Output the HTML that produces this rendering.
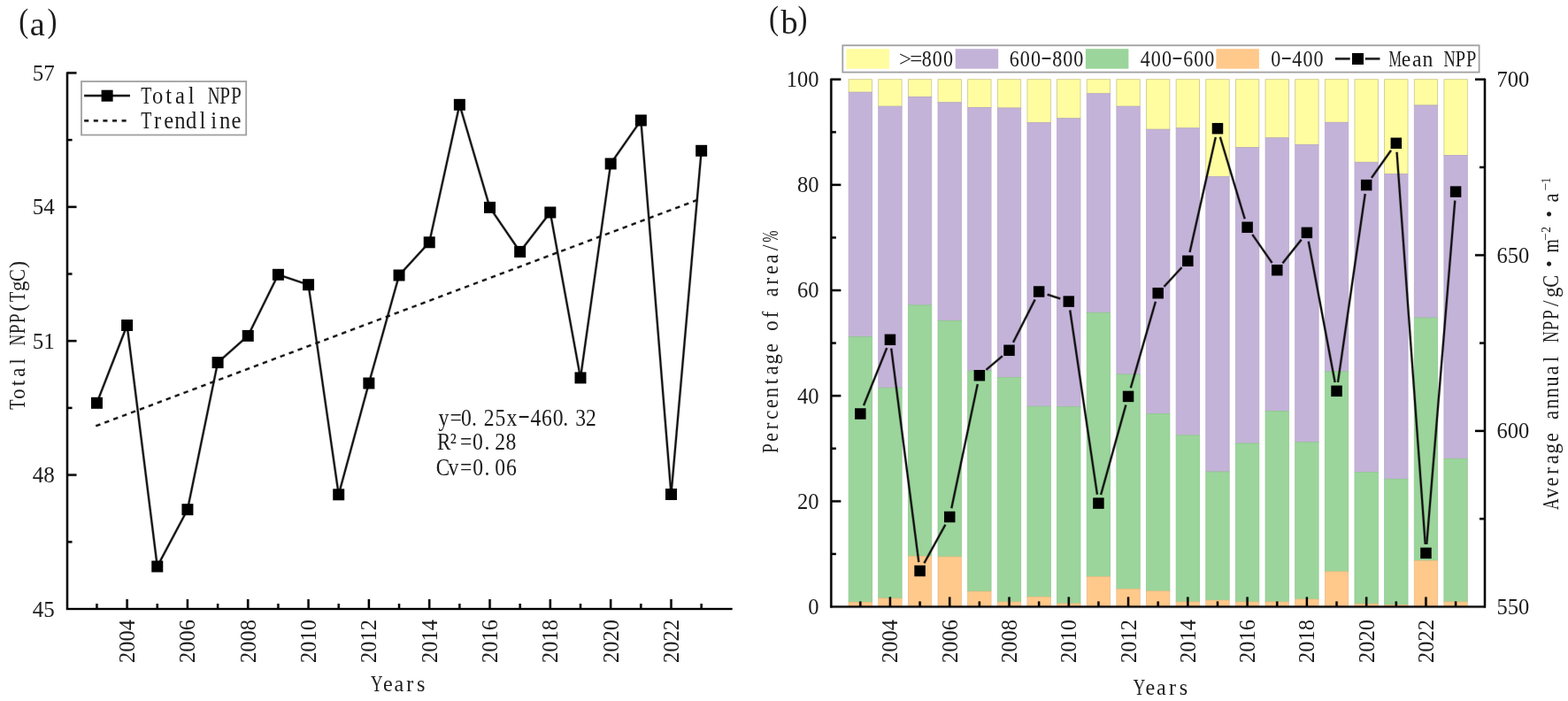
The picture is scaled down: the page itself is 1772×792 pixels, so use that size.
<!DOCTYPE html>
<html><head><meta charset="utf-8"><title>NPP charts</title>
<style>html,body{margin:0;padding:0;background:#fff;}svg{display:block;}</style>
</head><body>
<svg width="1772" height="792" viewBox="0 0 1772 792" font-family='"Liberation Serif", "Noto Serif CJK SC", serif'>
<rect width="1772" height="792" fill="#fff"/>
<line x1="108.3" y1="481.3" x2="789.6" y2="225.4" stroke="#111" stroke-width="3.40" stroke-opacity="0.25" stroke-dasharray="5.4 5.2"/><line x1="108.3" y1="481.3" x2="789.6" y2="225.4" stroke="#111" stroke-width="2.1" stroke-dasharray="5.4 5.2"/>
<polyline points="109.44,455.30 143.60,367.50 177.76,640.00 211.92,575.70 246.08,409.60 280.24,379.40 314.40,310.30 348.56,321.70 382.72,558.80 416.88,433.00 451.04,311.00 485.20,273.80 519.36,118.30 553.52,234.40 587.68,284.40 621.84,240.00 656.00,426.90 690.16,185.00 724.32,136.00 758.48,558.50 792.64,170.30" fill="none" stroke="#111" stroke-width="3.40" stroke-opacity="0.25" stroke-linejoin="miter"/><polyline points="109.44,455.30 143.60,367.50 177.76,640.00 211.92,575.70 246.08,409.60 280.24,379.40 314.40,310.30 348.56,321.70 382.72,558.80 416.88,433.00 451.04,311.00 485.20,273.80 519.36,118.30 553.52,234.40 587.68,284.40 621.84,240.00 656.00,426.90 690.16,185.00 724.32,136.00 758.48,558.50 792.64,170.30" fill="none" stroke="#111" stroke-width="2.1" stroke-linejoin="miter"/>
<rect x="102.94" y="448.80" width="13" height="13" fill="#000"/>
<rect x="137.10" y="361.00" width="13" height="13" fill="#000"/>
<rect x="171.26" y="633.50" width="13" height="13" fill="#000"/>
<rect x="205.42" y="569.20" width="13" height="13" fill="#000"/>
<rect x="239.58" y="403.10" width="13" height="13" fill="#000"/>
<rect x="273.74" y="372.90" width="13" height="13" fill="#000"/>
<rect x="307.90" y="303.80" width="13" height="13" fill="#000"/>
<rect x="342.06" y="315.20" width="13" height="13" fill="#000"/>
<rect x="376.22" y="552.30" width="13" height="13" fill="#000"/>
<rect x="410.38" y="426.50" width="13" height="13" fill="#000"/>
<rect x="444.54" y="304.50" width="13" height="13" fill="#000"/>
<rect x="478.70" y="267.30" width="13" height="13" fill="#000"/>
<rect x="512.86" y="111.80" width="13" height="13" fill="#000"/>
<rect x="547.02" y="227.90" width="13" height="13" fill="#000"/>
<rect x="581.18" y="277.90" width="13" height="13" fill="#000"/>
<rect x="615.34" y="233.50" width="13" height="13" fill="#000"/>
<rect x="649.50" y="420.40" width="13" height="13" fill="#000"/>
<rect x="683.66" y="178.50" width="13" height="13" fill="#000"/>
<rect x="717.82" y="129.50" width="13" height="13" fill="#000"/>
<rect x="751.98" y="552.00" width="13" height="13" fill="#000"/>
<rect x="786.14" y="163.80" width="13" height="13" fill="#000"/>
<line x1="76.0" y1="81.4" x2="76.0" y2="689.0" stroke="#000" stroke-width="3.50" stroke-opacity="0.25"/><line x1="76.0" y1="81.4" x2="76.0" y2="689.0" stroke="#000" stroke-width="2.2"/>
<line x1="75.0" y1="688.0" x2="827.6" y2="688.0" stroke="#000" stroke-width="3.50" stroke-opacity="0.25"/><line x1="75.0" y1="688.0" x2="827.6" y2="688.0" stroke="#000" stroke-width="2.2"/>
<line x1="76.0" y1="536.60" x2="86.5" y2="536.60" stroke="#000" stroke-width="3.50" stroke-opacity="0.25"/><line x1="76.0" y1="536.60" x2="86.5" y2="536.60" stroke="#000" stroke-width="2.2"/>
<line x1="76.0" y1="385.20" x2="86.5" y2="385.20" stroke="#000" stroke-width="3.50" stroke-opacity="0.25"/><line x1="76.0" y1="385.20" x2="86.5" y2="385.20" stroke="#000" stroke-width="2.2"/>
<line x1="76.0" y1="233.80" x2="86.5" y2="233.80" stroke="#000" stroke-width="3.50" stroke-opacity="0.25"/><line x1="76.0" y1="233.80" x2="86.5" y2="233.80" stroke="#000" stroke-width="2.2"/>
<line x1="76.0" y1="82.40" x2="86.5" y2="82.40" stroke="#000" stroke-width="3.50" stroke-opacity="0.25"/><line x1="76.0" y1="82.40" x2="86.5" y2="82.40" stroke="#000" stroke-width="2.2"/>
<line x1="76.0" y1="612.30" x2="81.5" y2="612.30" stroke="#000" stroke-width="3.50" stroke-opacity="0.25"/><line x1="76.0" y1="612.30" x2="81.5" y2="612.30" stroke="#000" stroke-width="2.2"/>
<line x1="76.0" y1="460.90" x2="81.5" y2="460.90" stroke="#000" stroke-width="3.50" stroke-opacity="0.25"/><line x1="76.0" y1="460.90" x2="81.5" y2="460.90" stroke="#000" stroke-width="2.2"/>
<line x1="76.0" y1="309.50" x2="81.5" y2="309.50" stroke="#000" stroke-width="3.50" stroke-opacity="0.25"/><line x1="76.0" y1="309.50" x2="81.5" y2="309.50" stroke="#000" stroke-width="2.2"/>
<line x1="76.0" y1="158.10" x2="81.5" y2="158.10" stroke="#000" stroke-width="3.50" stroke-opacity="0.25"/><line x1="76.0" y1="158.10" x2="81.5" y2="158.10" stroke="#000" stroke-width="2.2"/>
<line x1="109.44" y1="688.0" x2="109.44" y2="682.0" stroke="#000" stroke-width="3.50" stroke-opacity="0.25"/><line x1="109.44" y1="688.0" x2="109.44" y2="682.0" stroke="#000" stroke-width="2.2"/>
<line x1="143.60" y1="688.0" x2="143.60" y2="677.0" stroke="#000" stroke-width="3.50" stroke-opacity="0.25"/><line x1="143.60" y1="688.0" x2="143.60" y2="677.0" stroke="#000" stroke-width="2.2"/>
<line x1="177.76" y1="688.0" x2="177.76" y2="682.0" stroke="#000" stroke-width="3.50" stroke-opacity="0.25"/><line x1="177.76" y1="688.0" x2="177.76" y2="682.0" stroke="#000" stroke-width="2.2"/>
<line x1="211.92" y1="688.0" x2="211.92" y2="677.0" stroke="#000" stroke-width="3.50" stroke-opacity="0.25"/><line x1="211.92" y1="688.0" x2="211.92" y2="677.0" stroke="#000" stroke-width="2.2"/>
<line x1="246.08" y1="688.0" x2="246.08" y2="682.0" stroke="#000" stroke-width="3.50" stroke-opacity="0.25"/><line x1="246.08" y1="688.0" x2="246.08" y2="682.0" stroke="#000" stroke-width="2.2"/>
<line x1="280.24" y1="688.0" x2="280.24" y2="677.0" stroke="#000" stroke-width="3.50" stroke-opacity="0.25"/><line x1="280.24" y1="688.0" x2="280.24" y2="677.0" stroke="#000" stroke-width="2.2"/>
<line x1="314.40" y1="688.0" x2="314.40" y2="682.0" stroke="#000" stroke-width="3.50" stroke-opacity="0.25"/><line x1="314.40" y1="688.0" x2="314.40" y2="682.0" stroke="#000" stroke-width="2.2"/>
<line x1="348.56" y1="688.0" x2="348.56" y2="677.0" stroke="#000" stroke-width="3.50" stroke-opacity="0.25"/><line x1="348.56" y1="688.0" x2="348.56" y2="677.0" stroke="#000" stroke-width="2.2"/>
<line x1="382.72" y1="688.0" x2="382.72" y2="682.0" stroke="#000" stroke-width="3.50" stroke-opacity="0.25"/><line x1="382.72" y1="688.0" x2="382.72" y2="682.0" stroke="#000" stroke-width="2.2"/>
<line x1="416.88" y1="688.0" x2="416.88" y2="677.0" stroke="#000" stroke-width="3.50" stroke-opacity="0.25"/><line x1="416.88" y1="688.0" x2="416.88" y2="677.0" stroke="#000" stroke-width="2.2"/>
<line x1="451.04" y1="688.0" x2="451.04" y2="682.0" stroke="#000" stroke-width="3.50" stroke-opacity="0.25"/><line x1="451.04" y1="688.0" x2="451.04" y2="682.0" stroke="#000" stroke-width="2.2"/>
<line x1="485.20" y1="688.0" x2="485.20" y2="677.0" stroke="#000" stroke-width="3.50" stroke-opacity="0.25"/><line x1="485.20" y1="688.0" x2="485.20" y2="677.0" stroke="#000" stroke-width="2.2"/>
<line x1="519.36" y1="688.0" x2="519.36" y2="682.0" stroke="#000" stroke-width="3.50" stroke-opacity="0.25"/><line x1="519.36" y1="688.0" x2="519.36" y2="682.0" stroke="#000" stroke-width="2.2"/>
<line x1="553.52" y1="688.0" x2="553.52" y2="677.0" stroke="#000" stroke-width="3.50" stroke-opacity="0.25"/><line x1="553.52" y1="688.0" x2="553.52" y2="677.0" stroke="#000" stroke-width="2.2"/>
<line x1="587.68" y1="688.0" x2="587.68" y2="682.0" stroke="#000" stroke-width="3.50" stroke-opacity="0.25"/><line x1="587.68" y1="688.0" x2="587.68" y2="682.0" stroke="#000" stroke-width="2.2"/>
<line x1="621.84" y1="688.0" x2="621.84" y2="677.0" stroke="#000" stroke-width="3.50" stroke-opacity="0.25"/><line x1="621.84" y1="688.0" x2="621.84" y2="677.0" stroke="#000" stroke-width="2.2"/>
<line x1="656.00" y1="688.0" x2="656.00" y2="682.0" stroke="#000" stroke-width="3.50" stroke-opacity="0.25"/><line x1="656.00" y1="688.0" x2="656.00" y2="682.0" stroke="#000" stroke-width="2.2"/>
<line x1="690.16" y1="688.0" x2="690.16" y2="677.0" stroke="#000" stroke-width="3.50" stroke-opacity="0.25"/><line x1="690.16" y1="688.0" x2="690.16" y2="677.0" stroke="#000" stroke-width="2.2"/>
<line x1="724.32" y1="688.0" x2="724.32" y2="682.0" stroke="#000" stroke-width="3.50" stroke-opacity="0.25"/><line x1="724.32" y1="688.0" x2="724.32" y2="682.0" stroke="#000" stroke-width="2.2"/>
<line x1="758.48" y1="688.0" x2="758.48" y2="677.0" stroke="#000" stroke-width="3.50" stroke-opacity="0.25"/><line x1="758.48" y1="688.0" x2="758.48" y2="677.0" stroke="#000" stroke-width="2.2"/>
<line x1="792.64" y1="688.0" x2="792.64" y2="682.0" stroke="#000" stroke-width="3.50" stroke-opacity="0.25"/><line x1="792.64" y1="688.0" x2="792.64" y2="682.0" stroke="#000" stroke-width="2.2"/>
<text x="61.8" y="696.60" font-size="25" text-anchor="end" fill="#1c1c1c">45</text>
<text x="61.8" y="545.20" font-size="25" text-anchor="end" fill="#1c1c1c">48</text>
<text x="61.8" y="393.80" font-size="25" text-anchor="end" fill="#1c1c1c">51</text>
<text x="61.8" y="242.40" font-size="25" text-anchor="end" fill="#1c1c1c">54</text>
<text x="61.8" y="91.00" font-size="25" text-anchor="end" fill="#1c1c1c">57</text>
<text transform="translate(152.10,700.0) rotate(-90)" font-size="24.5" text-anchor="end" fill="#1c1c1c">2004</text>
<text transform="translate(220.42,700.0) rotate(-90)" font-size="24.5" text-anchor="end" fill="#1c1c1c">2006</text>
<text transform="translate(288.74,700.0) rotate(-90)" font-size="24.5" text-anchor="end" fill="#1c1c1c">2008</text>
<text transform="translate(357.06,700.0) rotate(-90)" font-size="24.5" text-anchor="end" fill="#1c1c1c">2010</text>
<text transform="translate(425.38,700.0) rotate(-90)" font-size="24.5" text-anchor="end" fill="#1c1c1c">2012</text>
<text transform="translate(493.70,700.0) rotate(-90)" font-size="24.5" text-anchor="end" fill="#1c1c1c">2014</text>
<text transform="translate(562.02,700.0) rotate(-90)" font-size="24.5" text-anchor="end" fill="#1c1c1c">2016</text>
<text transform="translate(630.34,700.0) rotate(-90)" font-size="24.5" text-anchor="end" fill="#1c1c1c">2018</text>
<text transform="translate(698.66,700.0) rotate(-90)" font-size="24.5" text-anchor="end" fill="#1c1c1c">2020</text>
<text transform="translate(766.98,700.0) rotate(-90)" font-size="24.5" text-anchor="end" fill="#1c1c1c">2022</text>
<g fill="#1c1c1c"><text transform="translate(425.75,780.80) scale(0.720,1)" text-anchor="middle" font-size="26">Y</text><text transform="translate(438.25,780.80) scale(0.930,1)" text-anchor="middle" font-size="26">e</text><text transform="translate(450.75,780.80) scale(0.930,1)" text-anchor="middle" font-size="26">a</text><text transform="translate(463.25,780.80) scale(0.930,1)" text-anchor="middle" font-size="26">r</text><text transform="translate(475.75,780.80) scale(0.930,1)" text-anchor="middle" font-size="26">s</text></g>
<g transform="translate(27.5,463.2) rotate(-90)"><g fill="#1c1c1c"><text transform="translate(6.08,0.00) scale(0.750,1)" text-anchor="middle" font-size="24.5">T</text><text transform="translate(18.25,0.00) scale(0.930,1)" text-anchor="middle" font-size="24.5">o</text><text transform="translate(30.43,0.00) scale(0.930,1)" text-anchor="middle" font-size="24.5">t</text><text transform="translate(42.59,0.00) scale(0.930,1)" text-anchor="middle" font-size="24.5">a</text><text transform="translate(54.77,0.00) scale(0.930,1)" text-anchor="middle" font-size="24.5">l</text><text transform="translate(79.11,0.00) scale(0.720,1)" text-anchor="middle" font-size="24.5">N</text><text transform="translate(91.28,0.00) scale(0.800,1)" text-anchor="middle" font-size="24.5">P</text><text transform="translate(103.44,0.00) scale(0.800,1)" text-anchor="middle" font-size="24.5">P</text><text transform="translate(115.61,0.00) scale(1.000,1)" text-anchor="middle" font-size="24.5">(</text><text transform="translate(127.78,0.00) scale(0.750,1)" text-anchor="middle" font-size="24.5">T</text><text transform="translate(139.96,0.00) scale(0.930,1)" text-anchor="middle" font-size="24.5">g</text><text transform="translate(152.12,0.00) scale(0.850,1)" text-anchor="middle" font-size="24.5">C</text><text transform="translate(164.29,0.00) scale(1.000,1)" text-anchor="middle" font-size="24.5">)</text></g></g>
<rect x="92" y="92" width="186.2" height="60.5" fill="#fff" stroke="#a0a0a0" stroke-width="1.8"/>
<line x1="95.2" y1="108.1" x2="146.9" y2="108.1" stroke="#111" stroke-width="3.50" stroke-opacity="0.25"/><line x1="95.2" y1="108.1" x2="146.9" y2="108.1" stroke="#111" stroke-width="2.2"/>
<rect x="114.6" y="101.7" width="13" height="13" fill="#000"/>
<line x1="95.2" y1="136.4" x2="143" y2="136.4" stroke="#111" stroke-width="3.50" stroke-opacity="0.25" stroke-dasharray="5 5.6"/><line x1="95.2" y1="136.4" x2="143" y2="136.4" stroke="#111" stroke-width="2.2" stroke-dasharray="5 5.6"/>
<g fill="#1c1c1c"><text transform="translate(165.35,117.30) scale(0.750,1)" text-anchor="middle" font-size="26.5">T</text><text transform="translate(178.05,117.30) scale(0.930,1)" text-anchor="middle" font-size="26.5">o</text><text transform="translate(190.75,117.30) scale(0.930,1)" text-anchor="middle" font-size="26.5">t</text><text transform="translate(203.45,117.30) scale(0.930,1)" text-anchor="middle" font-size="26.5">a</text><text transform="translate(216.15,117.30) scale(0.930,1)" text-anchor="middle" font-size="26.5">l</text><text transform="translate(241.55,117.30) scale(0.720,1)" text-anchor="middle" font-size="26.5">N</text><text transform="translate(254.25,117.30) scale(0.800,1)" text-anchor="middle" font-size="26.5">P</text><text transform="translate(266.95,117.30) scale(0.800,1)" text-anchor="middle" font-size="26.5">P</text></g>
<g fill="#1c1c1c"><text transform="translate(165.35,144.90) scale(0.750,1)" text-anchor="middle" font-size="26.5">T</text><text transform="translate(178.05,144.90) scale(0.930,1)" text-anchor="middle" font-size="26.5">r</text><text transform="translate(190.75,144.90) scale(0.930,1)" text-anchor="middle" font-size="26.5">e</text><text transform="translate(203.45,144.90) scale(0.930,1)" text-anchor="middle" font-size="26.5">n</text><text transform="translate(216.15,144.90) scale(0.930,1)" text-anchor="middle" font-size="26.5">d</text><text transform="translate(228.85,144.90) scale(0.930,1)" text-anchor="middle" font-size="26.5">l</text><text transform="translate(241.55,144.90) scale(0.930,1)" text-anchor="middle" font-size="26.5">i</text><text transform="translate(254.25,144.90) scale(0.930,1)" text-anchor="middle" font-size="26.5">n</text><text transform="translate(266.95,144.90) scale(0.930,1)" text-anchor="middle" font-size="26.5">e</text></g>
<g fill="#1c1c1c"><text transform="translate(501.40,480.60) scale(0.860,1)" text-anchor="middle" font-size="27.5">y</text><text transform="translate(515.10,480.60) scale(0.860,1)" text-anchor="middle" font-size="27.5">=</text><text transform="translate(526.90,480.60) scale(0.860,1)" text-anchor="middle" font-size="27.5">0</text><text transform="translate(536.00,480.60) scale(0.860,1)" text-anchor="middle" font-size="27.5">.</text><text transform="translate(552.70,480.60) scale(0.860,1)" text-anchor="middle" font-size="27.5">2</text><text transform="translate(565.40,480.60) scale(0.860,1)" text-anchor="middle" font-size="27.5">5</text><text transform="translate(578.50,480.60) scale(0.860,1)" text-anchor="middle" font-size="27.5">x</text><text transform="translate(592.10,477.03) scale(1.500,1)" text-anchor="middle" font-size="27.5">-</text><text transform="translate(605.50,480.60) scale(0.860,1)" text-anchor="middle" font-size="27.5">4</text><text transform="translate(617.90,480.60) scale(0.860,1)" text-anchor="middle" font-size="27.5">6</text><text transform="translate(630.60,480.60) scale(0.860,1)" text-anchor="middle" font-size="27.5">0</text><text transform="translate(639.20,480.60) scale(0.860,1)" text-anchor="middle" font-size="27.5">.</text><text transform="translate(656.10,480.60) scale(0.860,1)" text-anchor="middle" font-size="27.5">3</text><text transform="translate(667.90,480.60) scale(0.860,1)" text-anchor="middle" font-size="27.5">2</text></g>
<g fill="#1c1c1c"><text transform="translate(501.70,508.40) scale(0.840,1)" text-anchor="middle" font-size="27.5">R</text><text transform="translate(512.20,508.40) scale(0.860,1)" text-anchor="middle" font-size="27.5">²</text><text transform="translate(526.60,508.40) scale(0.860,1)" text-anchor="middle" font-size="27.5">=</text><text transform="translate(540.00,508.40) scale(0.860,1)" text-anchor="middle" font-size="27.5">0</text><text transform="translate(550.40,508.40) scale(0.860,1)" text-anchor="middle" font-size="27.5">.</text><text transform="translate(565.10,508.40) scale(0.860,1)" text-anchor="middle" font-size="27.5">2</text><text transform="translate(577.50,508.40) scale(0.860,1)" text-anchor="middle" font-size="27.5">8</text></g>
<g fill="#1c1c1c"><text transform="translate(500.50,537.00) scale(0.840,1)" text-anchor="middle" font-size="27.5">C</text><text transform="translate(512.30,537.00) scale(0.860,1)" text-anchor="middle" font-size="27.5">v</text><text transform="translate(526.60,537.00) scale(0.860,1)" text-anchor="middle" font-size="27.5">=</text><text transform="translate(540.20,537.00) scale(0.860,1)" text-anchor="middle" font-size="27.5">0</text><text transform="translate(550.40,537.00) scale(0.860,1)" text-anchor="middle" font-size="27.5">.</text><text transform="translate(565.10,537.00) scale(0.860,1)" text-anchor="middle" font-size="27.5">0</text><text transform="translate(577.80,537.00) scale(0.860,1)" text-anchor="middle" font-size="27.5">6</text></g>
<g fill="#1c1c1c" font-size="38.3"><text transform="translate(21.2,35.6) scale(0.86,1)">(</text><text x="33.8" y="40.3">a</text><text transform="translate(53.6,35.6) scale(0.86,1)">)</text></g>
<rect x="959.10" y="89.70" width="26.4" height="14.50" fill="#FFFDA0" stroke="#C9C58A" stroke-width="0.8"/>
<rect x="959.10" y="104.20" width="26.4" height="276.40" fill="#C4B3D8" stroke="#B8A8CB" stroke-width="0.8"/>
<rect x="959.10" y="380.60" width="26.4" height="299.80" fill="#9BD59B" stroke="#8FC88F" stroke-width="0.8"/>
<rect x="959.10" y="680.40" width="26.4" height="5.10" fill="#FFC98C" stroke="#EDBB83" stroke-width="0.8"/>
<rect x="992.74" y="89.70" width="26.4" height="30.50" fill="#FFFDA0" stroke="#C9C58A" stroke-width="0.8"/>
<rect x="992.74" y="120.20" width="26.4" height="318.00" fill="#C4B3D8" stroke="#B8A8CB" stroke-width="0.8"/>
<rect x="992.74" y="438.20" width="26.4" height="237.80" fill="#9BD59B" stroke="#8FC88F" stroke-width="0.8"/>
<rect x="992.74" y="676.00" width="26.4" height="9.50" fill="#FFC98C" stroke="#EDBB83" stroke-width="0.8"/>
<rect x="1026.38" y="89.70" width="26.4" height="19.80" fill="#FFFDA0" stroke="#C9C58A" stroke-width="0.8"/>
<rect x="1026.38" y="109.50" width="26.4" height="235.30" fill="#C4B3D8" stroke="#B8A8CB" stroke-width="0.8"/>
<rect x="1026.38" y="344.80" width="26.4" height="283.80" fill="#9BD59B" stroke="#8FC88F" stroke-width="0.8"/>
<rect x="1026.38" y="628.60" width="26.4" height="56.90" fill="#FFC98C" stroke="#EDBB83" stroke-width="0.8"/>
<rect x="1060.02" y="89.70" width="26.4" height="26.10" fill="#FFFDA0" stroke="#C9C58A" stroke-width="0.8"/>
<rect x="1060.02" y="115.80" width="26.4" height="246.60" fill="#C4B3D8" stroke="#B8A8CB" stroke-width="0.8"/>
<rect x="1060.02" y="362.40" width="26.4" height="266.70" fill="#9BD59B" stroke="#8FC88F" stroke-width="0.8"/>
<rect x="1060.02" y="629.10" width="26.4" height="56.40" fill="#FFC98C" stroke="#EDBB83" stroke-width="0.8"/>
<rect x="1093.66" y="89.70" width="26.4" height="31.90" fill="#FFFDA0" stroke="#C9C58A" stroke-width="0.8"/>
<rect x="1093.66" y="121.60" width="26.4" height="297.40" fill="#C4B3D8" stroke="#B8A8CB" stroke-width="0.8"/>
<rect x="1093.66" y="419.00" width="26.4" height="249.20" fill="#9BD59B" stroke="#8FC88F" stroke-width="0.8"/>
<rect x="1093.66" y="668.20" width="26.4" height="17.30" fill="#FFC98C" stroke="#EDBB83" stroke-width="0.8"/>
<rect x="1127.30" y="89.70" width="26.4" height="32.30" fill="#FFFDA0" stroke="#C9C58A" stroke-width="0.8"/>
<rect x="1127.30" y="122.00" width="26.4" height="304.50" fill="#C4B3D8" stroke="#B8A8CB" stroke-width="0.8"/>
<rect x="1127.30" y="426.50" width="26.4" height="253.50" fill="#9BD59B" stroke="#8FC88F" stroke-width="0.8"/>
<rect x="1127.30" y="680.00" width="26.4" height="5.50" fill="#FFC98C" stroke="#EDBB83" stroke-width="0.8"/>
<rect x="1160.94" y="89.70" width="26.4" height="49.00" fill="#FFFDA0" stroke="#C9C58A" stroke-width="0.8"/>
<rect x="1160.94" y="138.70" width="26.4" height="320.50" fill="#C4B3D8" stroke="#B8A8CB" stroke-width="0.8"/>
<rect x="1160.94" y="459.20" width="26.4" height="215.20" fill="#9BD59B" stroke="#8FC88F" stroke-width="0.8"/>
<rect x="1160.94" y="674.40" width="26.4" height="11.10" fill="#FFC98C" stroke="#EDBB83" stroke-width="0.8"/>
<rect x="1194.58" y="89.70" width="26.4" height="44.10" fill="#FFFDA0" stroke="#C9C58A" stroke-width="0.8"/>
<rect x="1194.58" y="133.80" width="26.4" height="325.90" fill="#C4B3D8" stroke="#B8A8CB" stroke-width="0.8"/>
<rect x="1194.58" y="459.70" width="26.4" height="222.20" fill="#9BD59B" stroke="#8FC88F" stroke-width="0.8"/>
<rect x="1194.58" y="681.90" width="26.4" height="3.60" fill="#FFC98C" stroke="#EDBB83" stroke-width="0.8"/>
<rect x="1228.22" y="89.70" width="26.4" height="16.10" fill="#FFFDA0" stroke="#C9C58A" stroke-width="0.8"/>
<rect x="1228.22" y="105.80" width="26.4" height="247.50" fill="#C4B3D8" stroke="#B8A8CB" stroke-width="0.8"/>
<rect x="1228.22" y="353.30" width="26.4" height="298.40" fill="#9BD59B" stroke="#8FC88F" stroke-width="0.8"/>
<rect x="1228.22" y="651.70" width="26.4" height="33.80" fill="#FFC98C" stroke="#EDBB83" stroke-width="0.8"/>
<rect x="1261.86" y="89.70" width="26.4" height="30.50" fill="#FFFDA0" stroke="#C9C58A" stroke-width="0.8"/>
<rect x="1261.86" y="120.20" width="26.4" height="302.80" fill="#C4B3D8" stroke="#B8A8CB" stroke-width="0.8"/>
<rect x="1261.86" y="423.00" width="26.4" height="242.60" fill="#9BD59B" stroke="#8FC88F" stroke-width="0.8"/>
<rect x="1261.86" y="665.60" width="26.4" height="19.90" fill="#FFC98C" stroke="#EDBB83" stroke-width="0.8"/>
<rect x="1295.50" y="89.70" width="26.4" height="56.50" fill="#FFFDA0" stroke="#C9C58A" stroke-width="0.8"/>
<rect x="1295.50" y="146.20" width="26.4" height="321.40" fill="#C4B3D8" stroke="#B8A8CB" stroke-width="0.8"/>
<rect x="1295.50" y="467.60" width="26.4" height="200.30" fill="#9BD59B" stroke="#8FC88F" stroke-width="0.8"/>
<rect x="1295.50" y="667.90" width="26.4" height="17.60" fill="#FFC98C" stroke="#EDBB83" stroke-width="0.8"/>
<rect x="1329.14" y="89.70" width="26.4" height="55.10" fill="#FFFDA0" stroke="#C9C58A" stroke-width="0.8"/>
<rect x="1329.14" y="144.80" width="26.4" height="347.00" fill="#C4B3D8" stroke="#B8A8CB" stroke-width="0.8"/>
<rect x="1329.14" y="491.80" width="26.4" height="188.20" fill="#9BD59B" stroke="#8FC88F" stroke-width="0.8"/>
<rect x="1329.14" y="680.00" width="26.4" height="5.50" fill="#FFC98C" stroke="#EDBB83" stroke-width="0.8"/>
<rect x="1362.78" y="89.70" width="26.4" height="110.00" fill="#FFFDA0" stroke="#C9C58A" stroke-width="0.8"/>
<rect x="1362.78" y="199.70" width="26.4" height="333.30" fill="#C4B3D8" stroke="#B8A8CB" stroke-width="0.8"/>
<rect x="1362.78" y="533.00" width="26.4" height="145.20" fill="#9BD59B" stroke="#8FC88F" stroke-width="0.8"/>
<rect x="1362.78" y="678.20" width="26.4" height="7.30" fill="#FFC98C" stroke="#EDBB83" stroke-width="0.8"/>
<rect x="1396.42" y="89.70" width="26.4" height="77.00" fill="#FFFDA0" stroke="#C9C58A" stroke-width="0.8"/>
<rect x="1396.42" y="166.70" width="26.4" height="334.20" fill="#C4B3D8" stroke="#B8A8CB" stroke-width="0.8"/>
<rect x="1396.42" y="500.90" width="26.4" height="179.10" fill="#9BD59B" stroke="#8FC88F" stroke-width="0.8"/>
<rect x="1396.42" y="680.00" width="26.4" height="5.50" fill="#FFC98C" stroke="#EDBB83" stroke-width="0.8"/>
<rect x="1430.06" y="89.70" width="26.4" height="66.10" fill="#FFFDA0" stroke="#C9C58A" stroke-width="0.8"/>
<rect x="1430.06" y="155.80" width="26.4" height="308.80" fill="#C4B3D8" stroke="#B8A8CB" stroke-width="0.8"/>
<rect x="1430.06" y="464.60" width="26.4" height="215.40" fill="#9BD59B" stroke="#8FC88F" stroke-width="0.8"/>
<rect x="1430.06" y="680.00" width="26.4" height="5.50" fill="#FFC98C" stroke="#EDBB83" stroke-width="0.8"/>
<rect x="1463.70" y="89.70" width="26.4" height="73.90" fill="#FFFDA0" stroke="#C9C58A" stroke-width="0.8"/>
<rect x="1463.70" y="163.60" width="26.4" height="336.00" fill="#C4B3D8" stroke="#B8A8CB" stroke-width="0.8"/>
<rect x="1463.70" y="499.60" width="26.4" height="177.40" fill="#9BD59B" stroke="#8FC88F" stroke-width="0.8"/>
<rect x="1463.70" y="677.00" width="26.4" height="8.50" fill="#FFC98C" stroke="#EDBB83" stroke-width="0.8"/>
<rect x="1497.34" y="89.70" width="26.4" height="48.60" fill="#FFFDA0" stroke="#C9C58A" stroke-width="0.8"/>
<rect x="1497.34" y="138.30" width="26.4" height="281.50" fill="#C4B3D8" stroke="#B8A8CB" stroke-width="0.8"/>
<rect x="1497.34" y="419.80" width="26.4" height="226.10" fill="#9BD59B" stroke="#8FC88F" stroke-width="0.8"/>
<rect x="1497.34" y="645.90" width="26.4" height="39.60" fill="#FFC98C" stroke="#EDBB83" stroke-width="0.8"/>
<rect x="1530.98" y="89.70" width="26.4" height="93.60" fill="#FFFDA0" stroke="#C9C58A" stroke-width="0.8"/>
<rect x="1530.98" y="183.30" width="26.4" height="350.40" fill="#C4B3D8" stroke="#B8A8CB" stroke-width="0.8"/>
<rect x="1530.98" y="533.70" width="26.4" height="148.50" fill="#9BD59B" stroke="#8FC88F" stroke-width="0.8"/>
<rect x="1530.98" y="682.20" width="26.4" height="3.30" fill="#FFC98C" stroke="#EDBB83" stroke-width="0.8"/>
<rect x="1564.62" y="89.70" width="26.4" height="107.00" fill="#FFFDA0" stroke="#C9C58A" stroke-width="0.8"/>
<rect x="1564.62" y="196.70" width="26.4" height="344.60" fill="#C4B3D8" stroke="#B8A8CB" stroke-width="0.8"/>
<rect x="1564.62" y="541.30" width="26.4" height="142.00" fill="#9BD59B" stroke="#8FC88F" stroke-width="0.8"/>
<rect x="1564.62" y="683.30" width="26.4" height="2.20" fill="#FFC98C" stroke="#EDBB83" stroke-width="0.8"/>
<rect x="1598.26" y="89.70" width="26.4" height="29.30" fill="#FFFDA0" stroke="#C9C58A" stroke-width="0.8"/>
<rect x="1598.26" y="119.00" width="26.4" height="240.10" fill="#C4B3D8" stroke="#B8A8CB" stroke-width="0.8"/>
<rect x="1598.26" y="359.10" width="26.4" height="274.40" fill="#9BD59B" stroke="#8FC88F" stroke-width="0.8"/>
<rect x="1598.26" y="633.50" width="26.4" height="52.00" fill="#FFC98C" stroke="#EDBB83" stroke-width="0.8"/>
<rect x="1631.90" y="89.70" width="26.4" height="85.80" fill="#FFFDA0" stroke="#C9C58A" stroke-width="0.8"/>
<rect x="1631.90" y="175.50" width="26.4" height="342.80" fill="#C4B3D8" stroke="#B8A8CB" stroke-width="0.8"/>
<rect x="1631.90" y="518.30" width="26.4" height="161.70" fill="#9BD59B" stroke="#8FC88F" stroke-width="0.8"/>
<rect x="1631.90" y="680.00" width="26.4" height="5.50" fill="#FFC98C" stroke="#EDBB83" stroke-width="0.8"/>
<line x1="976.03" y1="458.22" x2="1002.21" y2="393.08" stroke="#111" stroke-width="3.40" stroke-opacity="0.25"/><line x1="976.03" y1="458.22" x2="1002.21" y2="393.08" stroke="#111" stroke-width="2.1"/>
<line x1="1007.22" y1="393.72" x2="1038.30" y2="635.08" stroke="#111" stroke-width="3.40" stroke-opacity="0.25"/><line x1="1007.22" y1="393.72" x2="1038.30" y2="635.08" stroke="#111" stroke-width="2.1"/>
<line x1="1044.41" y1="636.24" x2="1068.39" y2="592.76" stroke="#111" stroke-width="3.40" stroke-opacity="0.25"/><line x1="1044.41" y1="636.24" x2="1068.39" y2="592.76" stroke="#111" stroke-width="2.1"/>
<line x1="1075.28" y1="574.21" x2="1104.80" y2="433.99" stroke="#111" stroke-width="3.40" stroke-opacity="0.25"/><line x1="1075.28" y1="574.21" x2="1104.80" y2="433.99" stroke="#111" stroke-width="2.1"/>
<line x1="1114.50" y1="417.75" x2="1132.86" y2="402.25" stroke="#111" stroke-width="3.40" stroke-opacity="0.25"/><line x1="1114.50" y1="417.75" x2="1132.86" y2="402.25" stroke="#111" stroke-width="2.1"/>
<line x1="1145.02" y1="386.88" x2="1169.62" y2="338.42" stroke="#111" stroke-width="3.40" stroke-opacity="0.25"/><line x1="1145.02" y1="386.88" x2="1169.62" y2="338.42" stroke="#111" stroke-width="2.1"/>
<line x1="1183.64" y1="332.63" x2="1198.28" y2="337.47" stroke="#111" stroke-width="3.40" stroke-opacity="0.25"/><line x1="1183.64" y1="332.63" x2="1198.28" y2="337.47" stroke="#111" stroke-width="2.1"/>
<line x1="1209.24" y1="350.49" x2="1239.96" y2="558.71" stroke="#111" stroke-width="3.40" stroke-opacity="0.25"/><line x1="1209.24" y1="350.49" x2="1239.96" y2="558.71" stroke="#111" stroke-width="2.1"/>
<line x1="1244.10" y1="558.97" x2="1272.38" y2="457.53" stroke="#111" stroke-width="3.40" stroke-opacity="0.25"/><line x1="1244.10" y1="558.97" x2="1272.38" y2="457.53" stroke="#111" stroke-width="2.1"/>
<line x1="1277.83" y1="438.29" x2="1305.93" y2="340.81" stroke="#111" stroke-width="3.40" stroke-opacity="0.25"/><line x1="1277.83" y1="438.29" x2="1305.93" y2="340.81" stroke="#111" stroke-width="2.1"/>
<line x1="1315.49" y1="323.86" x2="1335.55" y2="302.14" stroke="#111" stroke-width="3.40" stroke-opacity="0.25"/><line x1="1315.49" y1="323.86" x2="1335.55" y2="302.14" stroke="#111" stroke-width="2.1"/>
<line x1="1344.53" y1="285.04" x2="1373.79" y2="154.96" stroke="#111" stroke-width="3.40" stroke-opacity="0.25"/><line x1="1344.53" y1="285.04" x2="1373.79" y2="154.96" stroke="#111" stroke-width="2.1"/>
<line x1="1378.87" y1="154.77" x2="1406.73" y2="247.23" stroke="#111" stroke-width="3.40" stroke-opacity="0.25"/><line x1="1378.87" y1="154.77" x2="1406.73" y2="247.23" stroke="#111" stroke-width="2.1"/>
<line x1="1415.33" y1="265.01" x2="1437.55" y2="296.99" stroke="#111" stroke-width="3.40" stroke-opacity="0.25"/><line x1="1415.33" y1="265.01" x2="1437.55" y2="296.99" stroke="#111" stroke-width="2.1"/>
<line x1="1449.48" y1="297.37" x2="1470.68" y2="270.73" stroke="#111" stroke-width="3.40" stroke-opacity="0.25"/><line x1="1449.48" y1="297.37" x2="1470.68" y2="270.73" stroke="#111" stroke-width="2.1"/>
<line x1="1478.75" y1="272.73" x2="1508.69" y2="431.97" stroke="#111" stroke-width="3.40" stroke-opacity="0.25"/><line x1="1478.75" y1="272.73" x2="1508.69" y2="431.97" stroke="#111" stroke-width="2.1"/>
<line x1="1511.97" y1="431.90" x2="1542.75" y2="219.00" stroke="#111" stroke-width="3.40" stroke-opacity="0.25"/><line x1="1511.97" y1="431.90" x2="1542.75" y2="219.00" stroke="#111" stroke-width="2.1"/>
<line x1="1549.98" y1="200.95" x2="1572.02" y2="169.95" stroke="#111" stroke-width="3.40" stroke-opacity="0.25"/><line x1="1549.98" y1="200.95" x2="1572.02" y2="169.95" stroke="#111" stroke-width="2.1"/>
<line x1="1578.54" y1="171.77" x2="1610.74" y2="614.93" stroke="#111" stroke-width="3.40" stroke-opacity="0.25"/><line x1="1578.54" y1="171.77" x2="1610.74" y2="614.93" stroke="#111" stroke-width="2.1"/>
<line x1="1612.28" y1="614.93" x2="1644.28" y2="226.57" stroke="#111" stroke-width="3.40" stroke-opacity="0.25"/><line x1="1612.28" y1="614.93" x2="1644.28" y2="226.57" stroke="#111" stroke-width="2.1"/>
<rect x="966.05" y="461.25" width="12.5" height="12.5" fill="#000"/>
<rect x="999.69" y="377.55" width="12.5" height="12.5" fill="#000"/>
<rect x="1033.33" y="638.75" width="12.5" height="12.5" fill="#000"/>
<rect x="1066.97" y="577.75" width="12.5" height="12.5" fill="#000"/>
<rect x="1100.61" y="417.95" width="12.5" height="12.5" fill="#000"/>
<rect x="1134.25" y="389.55" width="12.5" height="12.5" fill="#000"/>
<rect x="1167.89" y="323.25" width="12.5" height="12.5" fill="#000"/>
<rect x="1201.53" y="334.35" width="12.5" height="12.5" fill="#000"/>
<rect x="1235.17" y="562.35" width="12.5" height="12.5" fill="#000"/>
<rect x="1268.81" y="441.65" width="12.5" height="12.5" fill="#000"/>
<rect x="1302.45" y="324.95" width="12.5" height="12.5" fill="#000"/>
<rect x="1336.09" y="288.55" width="12.5" height="12.5" fill="#000"/>
<rect x="1369.73" y="138.95" width="12.5" height="12.5" fill="#000"/>
<rect x="1403.37" y="250.55" width="12.5" height="12.5" fill="#000"/>
<rect x="1437.01" y="298.95" width="12.5" height="12.5" fill="#000"/>
<rect x="1470.65" y="256.65" width="12.5" height="12.5" fill="#000"/>
<rect x="1504.29" y="435.55" width="12.5" height="12.5" fill="#000"/>
<rect x="1537.93" y="202.85" width="12.5" height="12.5" fill="#000"/>
<rect x="1571.57" y="155.55" width="12.5" height="12.5" fill="#000"/>
<rect x="1605.21" y="618.65" width="12.5" height="12.5" fill="#000"/>
<rect x="1638.85" y="210.35" width="12.5" height="12.5" fill="#000"/>
<line x1="939.3" y1="88.7" x2="939.3" y2="686.5" stroke="#000" stroke-width="3.50" stroke-opacity="0.25"/><line x1="939.3" y1="88.7" x2="939.3" y2="686.5" stroke="#000" stroke-width="2.2"/>
<line x1="1678.0" y1="88.7" x2="1678.0" y2="686.5" stroke="#000" stroke-width="3.50" stroke-opacity="0.25"/><line x1="1678.0" y1="88.7" x2="1678.0" y2="686.5" stroke="#000" stroke-width="2.2"/>
<line x1="938.3" y1="685.5" x2="1679.0" y2="685.5" stroke="#000" stroke-width="3.50" stroke-opacity="0.25"/><line x1="938.3" y1="685.5" x2="1679.0" y2="685.5" stroke="#000" stroke-width="2.2"/>
<line x1="939.3" y1="625.92" x2="944.8" y2="625.92" stroke="#000" stroke-width="3.50" stroke-opacity="0.25"/><line x1="939.3" y1="625.92" x2="944.8" y2="625.92" stroke="#000" stroke-width="2.2"/>
<line x1="939.3" y1="566.34" x2="950.3" y2="566.34" stroke="#000" stroke-width="3.50" stroke-opacity="0.25"/><line x1="939.3" y1="566.34" x2="950.3" y2="566.34" stroke="#000" stroke-width="2.2"/>
<line x1="939.3" y1="506.76" x2="944.8" y2="506.76" stroke="#000" stroke-width="3.50" stroke-opacity="0.25"/><line x1="939.3" y1="506.76" x2="944.8" y2="506.76" stroke="#000" stroke-width="2.2"/>
<line x1="939.3" y1="447.18" x2="950.3" y2="447.18" stroke="#000" stroke-width="3.50" stroke-opacity="0.25"/><line x1="939.3" y1="447.18" x2="950.3" y2="447.18" stroke="#000" stroke-width="2.2"/>
<line x1="939.3" y1="387.60" x2="944.8" y2="387.60" stroke="#000" stroke-width="3.50" stroke-opacity="0.25"/><line x1="939.3" y1="387.60" x2="944.8" y2="387.60" stroke="#000" stroke-width="2.2"/>
<line x1="939.3" y1="328.02" x2="950.3" y2="328.02" stroke="#000" stroke-width="3.50" stroke-opacity="0.25"/><line x1="939.3" y1="328.02" x2="950.3" y2="328.02" stroke="#000" stroke-width="2.2"/>
<line x1="939.3" y1="268.44" x2="944.8" y2="268.44" stroke="#000" stroke-width="3.50" stroke-opacity="0.25"/><line x1="939.3" y1="268.44" x2="944.8" y2="268.44" stroke="#000" stroke-width="2.2"/>
<line x1="939.3" y1="208.86" x2="950.3" y2="208.86" stroke="#000" stroke-width="3.50" stroke-opacity="0.25"/><line x1="939.3" y1="208.86" x2="950.3" y2="208.86" stroke="#000" stroke-width="2.2"/>
<line x1="939.3" y1="149.28" x2="944.8" y2="149.28" stroke="#000" stroke-width="3.50" stroke-opacity="0.25"/><line x1="939.3" y1="149.28" x2="944.8" y2="149.28" stroke="#000" stroke-width="2.2"/>
<line x1="939.3" y1="89.70" x2="950.3" y2="89.70" stroke="#000" stroke-width="3.50" stroke-opacity="0.25"/><line x1="939.3" y1="89.70" x2="950.3" y2="89.70" stroke="#000" stroke-width="2.2"/>
<line x1="1678.0" y1="586.20" x2="1672.0" y2="586.20" stroke="#000" stroke-width="3.50" stroke-opacity="0.25"/><line x1="1678.0" y1="586.20" x2="1672.0" y2="586.20" stroke="#000" stroke-width="2.2"/>
<line x1="1678.0" y1="486.90" x2="1667.0" y2="486.90" stroke="#000" stroke-width="3.50" stroke-opacity="0.25"/><line x1="1678.0" y1="486.90" x2="1667.0" y2="486.90" stroke="#000" stroke-width="2.2"/>
<line x1="1678.0" y1="387.60" x2="1672.0" y2="387.60" stroke="#000" stroke-width="3.50" stroke-opacity="0.25"/><line x1="1678.0" y1="387.60" x2="1672.0" y2="387.60" stroke="#000" stroke-width="2.2"/>
<line x1="1678.0" y1="288.30" x2="1667.0" y2="288.30" stroke="#000" stroke-width="3.50" stroke-opacity="0.25"/><line x1="1678.0" y1="288.30" x2="1667.0" y2="288.30" stroke="#000" stroke-width="2.2"/>
<line x1="1678.0" y1="189.00" x2="1672.0" y2="189.00" stroke="#000" stroke-width="3.50" stroke-opacity="0.25"/><line x1="1678.0" y1="189.00" x2="1672.0" y2="189.00" stroke="#000" stroke-width="2.2"/>
<line x1="1678.0" y1="89.70" x2="1667.0" y2="89.70" stroke="#000" stroke-width="3.50" stroke-opacity="0.25"/><line x1="1678.0" y1="89.70" x2="1667.0" y2="89.70" stroke="#000" stroke-width="2.2"/>
<line x1="972.30" y1="685.5" x2="972.30" y2="679.5" stroke="#000" stroke-width="3.50" stroke-opacity="0.25"/><line x1="972.30" y1="685.5" x2="972.30" y2="679.5" stroke="#000" stroke-width="2.2"/>
<line x1="1005.94" y1="685.5" x2="1005.94" y2="674.5" stroke="#000" stroke-width="3.50" stroke-opacity="0.25"/><line x1="1005.94" y1="685.5" x2="1005.94" y2="674.5" stroke="#000" stroke-width="2.2"/>
<line x1="1039.58" y1="685.5" x2="1039.58" y2="679.5" stroke="#000" stroke-width="3.50" stroke-opacity="0.25"/><line x1="1039.58" y1="685.5" x2="1039.58" y2="679.5" stroke="#000" stroke-width="2.2"/>
<line x1="1073.22" y1="685.5" x2="1073.22" y2="674.5" stroke="#000" stroke-width="3.50" stroke-opacity="0.25"/><line x1="1073.22" y1="685.5" x2="1073.22" y2="674.5" stroke="#000" stroke-width="2.2"/>
<line x1="1106.86" y1="685.5" x2="1106.86" y2="679.5" stroke="#000" stroke-width="3.50" stroke-opacity="0.25"/><line x1="1106.86" y1="685.5" x2="1106.86" y2="679.5" stroke="#000" stroke-width="2.2"/>
<line x1="1140.50" y1="685.5" x2="1140.50" y2="674.5" stroke="#000" stroke-width="3.50" stroke-opacity="0.25"/><line x1="1140.50" y1="685.5" x2="1140.50" y2="674.5" stroke="#000" stroke-width="2.2"/>
<line x1="1174.14" y1="685.5" x2="1174.14" y2="679.5" stroke="#000" stroke-width="3.50" stroke-opacity="0.25"/><line x1="1174.14" y1="685.5" x2="1174.14" y2="679.5" stroke="#000" stroke-width="2.2"/>
<line x1="1207.78" y1="685.5" x2="1207.78" y2="674.5" stroke="#000" stroke-width="3.50" stroke-opacity="0.25"/><line x1="1207.78" y1="685.5" x2="1207.78" y2="674.5" stroke="#000" stroke-width="2.2"/>
<line x1="1241.42" y1="685.5" x2="1241.42" y2="679.5" stroke="#000" stroke-width="3.50" stroke-opacity="0.25"/><line x1="1241.42" y1="685.5" x2="1241.42" y2="679.5" stroke="#000" stroke-width="2.2"/>
<line x1="1275.06" y1="685.5" x2="1275.06" y2="674.5" stroke="#000" stroke-width="3.50" stroke-opacity="0.25"/><line x1="1275.06" y1="685.5" x2="1275.06" y2="674.5" stroke="#000" stroke-width="2.2"/>
<line x1="1308.70" y1="685.5" x2="1308.70" y2="679.5" stroke="#000" stroke-width="3.50" stroke-opacity="0.25"/><line x1="1308.70" y1="685.5" x2="1308.70" y2="679.5" stroke="#000" stroke-width="2.2"/>
<line x1="1342.34" y1="685.5" x2="1342.34" y2="674.5" stroke="#000" stroke-width="3.50" stroke-opacity="0.25"/><line x1="1342.34" y1="685.5" x2="1342.34" y2="674.5" stroke="#000" stroke-width="2.2"/>
<line x1="1375.98" y1="685.5" x2="1375.98" y2="679.5" stroke="#000" stroke-width="3.50" stroke-opacity="0.25"/><line x1="1375.98" y1="685.5" x2="1375.98" y2="679.5" stroke="#000" stroke-width="2.2"/>
<line x1="1409.62" y1="685.5" x2="1409.62" y2="674.5" stroke="#000" stroke-width="3.50" stroke-opacity="0.25"/><line x1="1409.62" y1="685.5" x2="1409.62" y2="674.5" stroke="#000" stroke-width="2.2"/>
<line x1="1443.26" y1="685.5" x2="1443.26" y2="679.5" stroke="#000" stroke-width="3.50" stroke-opacity="0.25"/><line x1="1443.26" y1="685.5" x2="1443.26" y2="679.5" stroke="#000" stroke-width="2.2"/>
<line x1="1476.90" y1="685.5" x2="1476.90" y2="674.5" stroke="#000" stroke-width="3.50" stroke-opacity="0.25"/><line x1="1476.90" y1="685.5" x2="1476.90" y2="674.5" stroke="#000" stroke-width="2.2"/>
<line x1="1510.54" y1="685.5" x2="1510.54" y2="679.5" stroke="#000" stroke-width="3.50" stroke-opacity="0.25"/><line x1="1510.54" y1="685.5" x2="1510.54" y2="679.5" stroke="#000" stroke-width="2.2"/>
<line x1="1544.18" y1="685.5" x2="1544.18" y2="674.5" stroke="#000" stroke-width="3.50" stroke-opacity="0.25"/><line x1="1544.18" y1="685.5" x2="1544.18" y2="674.5" stroke="#000" stroke-width="2.2"/>
<line x1="1577.82" y1="685.5" x2="1577.82" y2="679.5" stroke="#000" stroke-width="3.50" stroke-opacity="0.25"/><line x1="1577.82" y1="685.5" x2="1577.82" y2="679.5" stroke="#000" stroke-width="2.2"/>
<line x1="1611.46" y1="685.5" x2="1611.46" y2="674.5" stroke="#000" stroke-width="3.50" stroke-opacity="0.25"/><line x1="1611.46" y1="685.5" x2="1611.46" y2="674.5" stroke="#000" stroke-width="2.2"/>
<line x1="1645.10" y1="685.5" x2="1645.10" y2="679.5" stroke="#000" stroke-width="3.50" stroke-opacity="0.25"/><line x1="1645.10" y1="685.5" x2="1645.10" y2="679.5" stroke="#000" stroke-width="2.2"/>
<text x="925.4" y="693.90" font-size="24.5" text-anchor="end" fill="#1c1c1c">0</text>
<text x="925.4" y="574.74" font-size="24.5" text-anchor="end" fill="#1c1c1c">20</text>
<text x="925.4" y="455.58" font-size="24.5" text-anchor="end" fill="#1c1c1c">40</text>
<text x="925.4" y="336.42" font-size="24.5" text-anchor="end" fill="#1c1c1c">60</text>
<text x="925.4" y="217.26" font-size="24.5" text-anchor="end" fill="#1c1c1c">80</text>
<text x="925.4" y="98.10" font-size="24.5" text-anchor="end" fill="#1c1c1c">100</text>
<text x="1691.5" y="693.90" font-size="24.5" fill="#1c1c1c">550</text>
<text x="1691.5" y="495.30" font-size="24.5" fill="#1c1c1c">600</text>
<text x="1691.5" y="296.70" font-size="24.5" fill="#1c1c1c">650</text>
<text x="1691.5" y="98.10" font-size="24.5" fill="#1c1c1c">700</text>
<text transform="translate(1014.44,700.0) rotate(-90)" font-size="24.5" text-anchor="end" fill="#1c1c1c">2004</text>
<text transform="translate(1081.72,700.0) rotate(-90)" font-size="24.5" text-anchor="end" fill="#1c1c1c">2006</text>
<text transform="translate(1149.00,700.0) rotate(-90)" font-size="24.5" text-anchor="end" fill="#1c1c1c">2008</text>
<text transform="translate(1216.28,700.0) rotate(-90)" font-size="24.5" text-anchor="end" fill="#1c1c1c">2010</text>
<text transform="translate(1283.56,700.0) rotate(-90)" font-size="24.5" text-anchor="end" fill="#1c1c1c">2012</text>
<text transform="translate(1350.84,700.0) rotate(-90)" font-size="24.5" text-anchor="end" fill="#1c1c1c">2014</text>
<text transform="translate(1418.12,700.0) rotate(-90)" font-size="24.5" text-anchor="end" fill="#1c1c1c">2016</text>
<text transform="translate(1485.40,700.0) rotate(-90)" font-size="24.5" text-anchor="end" fill="#1c1c1c">2018</text>
<text transform="translate(1552.68,700.0) rotate(-90)" font-size="24.5" text-anchor="end" fill="#1c1c1c">2020</text>
<text transform="translate(1619.96,700.0) rotate(-90)" font-size="24.5" text-anchor="end" fill="#1c1c1c">2022</text>
<g fill="#1c1c1c"><text transform="translate(1287.45,784.70) scale(0.720,1)" text-anchor="middle" font-size="26">Y</text><text transform="translate(1299.95,784.70) scale(0.930,1)" text-anchor="middle" font-size="26">e</text><text transform="translate(1312.45,784.70) scale(0.930,1)" text-anchor="middle" font-size="26">a</text><text transform="translate(1324.95,784.70) scale(0.930,1)" text-anchor="middle" font-size="26">r</text><text transform="translate(1337.45,784.70) scale(0.930,1)" text-anchor="middle" font-size="26">s</text></g>
<g transform="translate(878.6,512.9) rotate(-90)"><g fill="#1c1c1c"><text transform="translate(6.30,0.00) scale(0.800,1)" text-anchor="middle" font-size="24.5">P</text><text transform="translate(18.90,0.00) scale(0.930,1)" text-anchor="middle" font-size="24.5">e</text><text transform="translate(31.50,0.00) scale(0.930,1)" text-anchor="middle" font-size="24.5">r</text><text transform="translate(44.10,0.00) scale(0.930,1)" text-anchor="middle" font-size="24.5">c</text><text transform="translate(56.70,0.00) scale(0.930,1)" text-anchor="middle" font-size="24.5">e</text><text transform="translate(69.30,0.00) scale(0.930,1)" text-anchor="middle" font-size="24.5">n</text><text transform="translate(81.90,0.00) scale(0.930,1)" text-anchor="middle" font-size="24.5">t</text><text transform="translate(94.50,0.00) scale(0.930,1)" text-anchor="middle" font-size="24.5">a</text><text transform="translate(107.10,0.00) scale(0.930,1)" text-anchor="middle" font-size="24.5">g</text><text transform="translate(119.70,0.00) scale(0.930,1)" text-anchor="middle" font-size="24.5">e</text><text transform="translate(144.90,0.00) scale(0.930,1)" text-anchor="middle" font-size="24.5">o</text><text transform="translate(157.50,0.00) scale(0.930,1)" text-anchor="middle" font-size="24.5">f</text><text transform="translate(182.70,0.00) scale(0.930,1)" text-anchor="middle" font-size="24.5">a</text><text transform="translate(195.30,0.00) scale(0.930,1)" text-anchor="middle" font-size="24.5">r</text><text transform="translate(207.90,0.00) scale(0.930,1)" text-anchor="middle" font-size="24.5">e</text><text transform="translate(220.50,0.00) scale(0.930,1)" text-anchor="middle" font-size="24.5">a</text><text transform="translate(233.10,0.00) scale(1.000,1)" text-anchor="middle" font-size="24.5">/</text><text transform="translate(245.70,0.00) scale(0.648,1)" text-anchor="middle" font-size="24.5">%</text></g></g>
<g transform="translate(1760.5,575.5) rotate(-90)"><g fill="#1c1c1c"><text transform="translate(5.80,0.00) scale(0.720,1)" text-anchor="middle" font-size="24.5">A</text><text transform="translate(18.40,0.00) scale(0.930,1)" text-anchor="middle" font-size="24.5">v</text><text transform="translate(31.00,0.00) scale(0.930,1)" text-anchor="middle" font-size="24.5">e</text><text transform="translate(43.60,0.00) scale(0.930,1)" text-anchor="middle" font-size="24.5">r</text><text transform="translate(56.20,0.00) scale(0.930,1)" text-anchor="middle" font-size="24.5">a</text><text transform="translate(68.80,0.00) scale(0.930,1)" text-anchor="middle" font-size="24.5">g</text><text transform="translate(81.40,0.00) scale(0.930,1)" text-anchor="middle" font-size="24.5">e</text><text transform="translate(106.60,0.00) scale(0.930,1)" text-anchor="middle" font-size="24.5">a</text><text transform="translate(119.20,0.00) scale(0.930,1)" text-anchor="middle" font-size="24.5">n</text><text transform="translate(131.80,0.00) scale(0.930,1)" text-anchor="middle" font-size="24.5">n</text><text transform="translate(144.40,0.00) scale(0.930,1)" text-anchor="middle" font-size="24.5">u</text><text transform="translate(157.00,0.00) scale(0.930,1)" text-anchor="middle" font-size="24.5">a</text><text transform="translate(169.60,0.00) scale(0.930,1)" text-anchor="middle" font-size="24.5">l</text><text transform="translate(194.80,0.00) scale(0.720,1)" text-anchor="middle" font-size="24.5">N</text><text transform="translate(207.40,0.00) scale(0.800,1)" text-anchor="middle" font-size="24.5">P</text><text transform="translate(220.00,0.00) scale(0.800,1)" text-anchor="middle" font-size="24.5">P</text><text transform="translate(232.60,0.00) scale(1.000,1)" text-anchor="middle" font-size="24.5">/</text><text transform="translate(245.20,0.00) scale(0.930,1)" text-anchor="middle" font-size="24.5">g</text><text transform="translate(257.80,0.00) scale(0.850,1)" text-anchor="middle" font-size="24.5">C</text></g><g fill="#1c1c1c"><text x="277.3" y="-2.2" font-size="22" text-anchor="middle">•</text><text x="333.5" y="-2.2" font-size="22" text-anchor="middle">•</text></g><g fill="#1c1c1c"><text transform="translate(297.70,0.00) scale(0.797,1)" text-anchor="middle" font-size="24.5">m</text></g><g fill="#1c1c1c"><text transform="translate(308.00,-8.80) scale(1.000,1)" text-anchor="middle" font-size="15.5">−</text><text transform="translate(316.00,-8.80) scale(0.850,1)" text-anchor="middle" font-size="15.5">2</text></g><g fill="#1c1c1c"><text transform="translate(352.00,0.00) scale(0.930,1)" text-anchor="middle" font-size="24.5">a</text></g><g fill="#1c1c1c"><text transform="translate(364.50,-8.80) scale(1.000,1)" text-anchor="middle" font-size="15.5">−</text><text transform="translate(371.50,-8.80) scale(0.850,1)" text-anchor="middle" font-size="15.5">1</text></g></g>
<rect x="952.3" y="51.3" width="719.3" height="30.3" fill="#fff" stroke="#a0a0a0" stroke-width="1.8"/>
<rect x="956.5" y="55.2" width="48.5" height="22.5" fill="#FFFDA0"/>
<g fill="#1c1c1c"><text transform="translate(1023.05,74.70) scale(0.957,1)" text-anchor="middle" font-size="26">&gt;</text><text transform="translate(1035.15,74.70) scale(0.957,1)" text-anchor="middle" font-size="26">=</text><text transform="translate(1047.25,74.70) scale(0.850,1)" text-anchor="middle" font-size="26">8</text><text transform="translate(1059.35,74.70) scale(0.850,1)" text-anchor="middle" font-size="26">0</text><text transform="translate(1071.45,74.70) scale(0.850,1)" text-anchor="middle" font-size="26">0</text></g>
<rect x="1079.7" y="55.2" width="48.5" height="22.5" fill="#C4B3D8"/>
<g fill="#1c1c1c"><text transform="translate(1146.25,74.70) scale(0.850,1)" text-anchor="middle" font-size="26">6</text><text transform="translate(1158.35,74.70) scale(0.850,1)" text-anchor="middle" font-size="26">0</text><text transform="translate(1170.45,74.70) scale(0.850,1)" text-anchor="middle" font-size="26">0</text><text transform="translate(1182.55,72.49) scale(1.450,1)" text-anchor="middle" font-size="26">-</text><text transform="translate(1194.65,74.70) scale(0.850,1)" text-anchor="middle" font-size="26">8</text><text transform="translate(1206.75,74.70) scale(0.850,1)" text-anchor="middle" font-size="26">0</text><text transform="translate(1218.85,74.70) scale(0.850,1)" text-anchor="middle" font-size="26">0</text></g>
<rect x="1226.9" y="55.2" width="48.5" height="22.5" fill="#9BD59B"/>
<g fill="#1c1c1c"><text transform="translate(1294.25,74.70) scale(0.850,1)" text-anchor="middle" font-size="26">4</text><text transform="translate(1306.35,74.70) scale(0.850,1)" text-anchor="middle" font-size="26">0</text><text transform="translate(1318.45,74.70) scale(0.850,1)" text-anchor="middle" font-size="26">0</text><text transform="translate(1330.55,72.49) scale(1.450,1)" text-anchor="middle" font-size="26">-</text><text transform="translate(1342.65,74.70) scale(0.850,1)" text-anchor="middle" font-size="26">6</text><text transform="translate(1354.75,74.70) scale(0.850,1)" text-anchor="middle" font-size="26">0</text><text transform="translate(1366.85,74.70) scale(0.850,1)" text-anchor="middle" font-size="26">0</text></g>
<rect x="1374.4" y="55.2" width="48.5" height="22.5" fill="#FFC98C"/>
<g fill="#1c1c1c"><text transform="translate(1441.65,74.70) scale(0.850,1)" text-anchor="middle" font-size="26">0</text><text transform="translate(1453.75,72.49) scale(1.450,1)" text-anchor="middle" font-size="26">-</text><text transform="translate(1465.85,74.70) scale(0.850,1)" text-anchor="middle" font-size="26">4</text><text transform="translate(1477.95,74.70) scale(0.850,1)" text-anchor="middle" font-size="26">0</text><text transform="translate(1490.05,74.70) scale(0.850,1)" text-anchor="middle" font-size="26">0</text></g>
<line x1="1508.9" y1="66.4" x2="1525.6" y2="66.4" stroke="#111" stroke-width="3.50" stroke-opacity="0.25"/><line x1="1508.9" y1="66.4" x2="1525.6" y2="66.4" stroke="#111" stroke-width="2.2"/>
<line x1="1542.8" y1="66.4" x2="1559.4" y2="66.4" stroke="#111" stroke-width="3.50" stroke-opacity="0.25"/><line x1="1542.8" y1="66.4" x2="1559.4" y2="66.4" stroke="#111" stroke-width="2.2"/>
<rect x="1528" y="60" width="13" height="13" fill="#000"/>
<g fill="#1c1c1c"><text transform="translate(1576.65,74.70) scale(0.640,1)" text-anchor="middle" font-size="25.5">M</text><text transform="translate(1588.95,74.70) scale(0.930,1)" text-anchor="middle" font-size="25.5">e</text><text transform="translate(1601.25,74.70) scale(0.930,1)" text-anchor="middle" font-size="25.5">a</text><text transform="translate(1613.55,74.70) scale(0.930,1)" text-anchor="middle" font-size="25.5">n</text><text transform="translate(1638.15,74.70) scale(0.720,1)" text-anchor="middle" font-size="25.5">N</text><text transform="translate(1650.45,74.70) scale(0.800,1)" text-anchor="middle" font-size="25.5">P</text><text transform="translate(1662.75,74.70) scale(0.800,1)" text-anchor="middle" font-size="25.5">P</text></g>
<g fill="#1c1c1c" font-size="38.3"><text transform="translate(869.0,33.4) scale(0.86,1)">(</text><text x="882.4" y="37.6">b</text><text transform="translate(901.6,33.4) scale(0.86,1)">)</text></g>
</svg>
</body></html>
